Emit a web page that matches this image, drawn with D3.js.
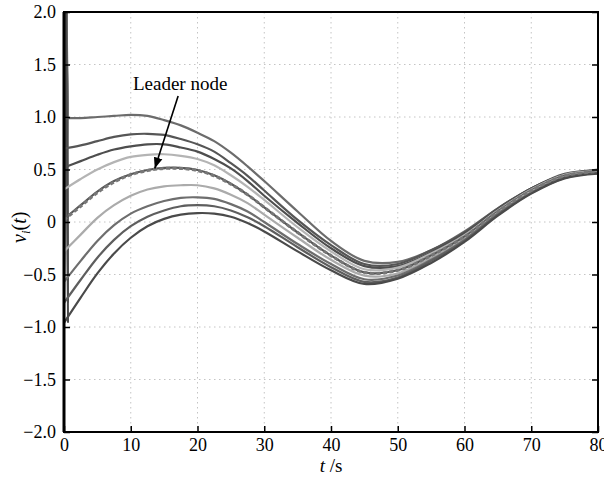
<!DOCTYPE html>
<html>
<head>
<meta charset="utf-8">
<script src="https://cdn.jsdelivr.net/npm/d3@7"></script>
<style>
  body { margin: 0; background: #fff; }
  svg { display: block; }
  svg text { font-family: "Liberation Serif", "Times New Roman", serif; }
</style>
</head>
<body>
<svg id="chart" width="604" height="477"></svg>
<script>
// time samples (s)
const times = [0, 2.5, 5, 7.5, 10, 12.5, 15, 17.5, 20, 22.5, 25, 27.5, 30, 35, 40, 45, 50, 55, 60, 65, 70, 75, 80];

// leader node velocity
const leader = [0.02, 0.15, 0.28, 0.38, 0.45, 0.49, 0.51, 0.51, 0.49, 0.44, 0.36, 0.26, 0.14, -0.10, -0.32, -0.48, -0.46, -0.32, -0.14, 0.10, 0.30, 0.44, 0.48];

// follower velocities, top to bottom at t = 0
const follower1 = [0.99, 0.99, 1.00, 1.01, 1.02, 1.01, 0.97, 0.92, 0.85, 0.77, 0.66, 0.53, 0.39, 0.10, -0.18, -0.37, -0.38, -0.27, -0.09, 0.13, 0.32, 0.45, 0.50];
const follower2 = [0.70, 0.73, 0.77, 0.81, 0.835, 0.84, 0.83, 0.79, 0.74, 0.67, 0.56, 0.44, 0.30, 0.02, -0.22, -0.40, -0.40, -0.27, -0.10, 0.13, 0.32, 0.46, 0.49];
const follower3 = [0.52, 0.58, 0.64, 0.69, 0.72, 0.74, 0.74, 0.71, 0.67, 0.60, 0.51, 0.39, 0.25, -0.01, -0.25, -0.42, -0.42, -0.29, -0.11, 0.12, 0.32, 0.45, 0.49];
const follower4 = [0.31, 0.41, 0.50, 0.57, 0.62, 0.64, 0.645, 0.63, 0.60, 0.54, 0.445, 0.335, 0.21, -0.05, -0.28, -0.45, -0.435, -0.30, -0.125, 0.11, 0.31, 0.45, 0.485];
const follower5 = [0.03, 0.16, 0.29, 0.39, 0.455, 0.495, 0.515, 0.515, 0.495, 0.445, 0.365, 0.26, 0.14, -0.10, -0.32, -0.48, -0.46, -0.32, -0.14, 0.10, 0.30, 0.44, 0.48];
const follower6 = [-0.28, -0.12, 0.04, 0.16, 0.25, 0.31, 0.34, 0.35, 0.35, 0.32, 0.26, 0.18, 0.07, -0.15, -0.36, -0.51, -0.49, -0.34, -0.16, 0.09, 0.29, 0.43, 0.475];
const follower7 = [-0.57, -0.37, -0.18, -0.03, 0.08, 0.15, 0.20, 0.23, 0.235, 0.22, 0.17, 0.10, 0.00, -0.21, -0.40, -0.545, -0.51, -0.36, -0.17, 0.08, 0.28, 0.425, 0.47];
const follower8 = [-0.77, -0.55, -0.34, -0.17, -0.04, 0.05, 0.11, 0.15, 0.16, 0.15, 0.11, 0.045, -0.04, -0.24, -0.43, -0.57, -0.53, -0.37, -0.18, 0.07, 0.275, 0.42, 0.465];
const follower9 = [-0.96, -0.72, -0.49, -0.30, -0.15, -0.04, 0.03, 0.07, 0.085, 0.08, 0.05, -0.01, -0.09, -0.28, -0.46, -0.59, -0.54, -0.39, -0.19, 0.06, 0.27, 0.415, 0.46];

// initial transient spike of the followers (goes off the top of the plot)
const spikeTimes = [0, 0.3, 0.6];
const spikePeak = 2.4;

const xTicks = [0, 10, 20, 30, 40, 50, 60, 70, 80];
const yTicks = [-2, -1.5, -1, -0.5, 0, 0.5, 1, 1.5, 2];
const annotation = "Leader node";

const followers = [follower1, follower2, follower3, follower4, follower5, follower6, follower7, follower8, follower9];
const shades = ["#6c6c6c", "#565656", "#4e4e4e", "#b4b4b4", "#585858", "#ababab", "#6e6e6e", "#5e5e5e", "#4a4a4a"];

const svg = d3.select('#chart');
const mLeft = 64, mRight = 598, mTop = 12, mBottom = 432;

const x = d3.scaleLinear().domain([0, 80]).range([mLeft, mRight]);
const y = d3.scaleLinear().domain([-2, 2]).range([mBottom, mTop]);

const defs = svg.append("defs");
defs.append("clipPath").attr("id", "plotclip")
  .append("rect")
    .attr("x", mLeft).attr("y", mTop)
    .attr("width", mRight - mLeft).attr("height", mBottom - mTop);

defs.append("marker")
    .attr("id", "arrow")
    .attr("viewBox", "0 0 10 10")
    .attr("refX", 10).attr("refY", 5)
    .attr("markerWidth", 11).attr("markerHeight", 11)
    .attr("markerUnits", "userSpaceOnUse")
    .attr("orient", "auto")
  .append("path")
    .attr("d", "M0,1 L10,5 L0,9 z")
    .attr("fill", "#000");

// grid
const grid = svg.append("g");
grid.selectAll("line.vx")
  .data(xTicks.slice(1, -1))
  .join("line")
    .attr("class", "vx")
    .attr("x1", d => x(d)).attr("x2", d => x(d))
    .attr("y1", mTop).attr("y2", mBottom)
    .attr("stroke", "#c4c4c4")
    .attr("stroke-width", 1)
    .attr("stroke-dasharray", "1.5,3.5");
grid.selectAll("line.hy")
  .data(yTicks.slice(1, -1))
  .join("line")
    .attr("class", "hy")
    .attr("x1", mLeft).attr("x2", mRight)
    .attr("y1", d => y(d)).attr("y2", d => y(d))
    .attr("stroke", "#c4c4c4")
    .attr("stroke-width", 1)
    .attr("stroke-dasharray", "1.5,3.5");

const line = d3.line()
  .x((d, i) => x(times[i]))
  .y(d => y(d))
  .curve(d3.curveCatmullRom.alpha(0.5));

const spikeLine = d3.line()
  .x(d => x(d[0]))
  .y(d => y(d[1]));

const lines = svg.append("g").attr("clip-path", "url(#plotclip)");

lines.selectAll("path.s")
  .data(followers)
  .join("path")
    .attr("class", "s")
    .attr("d", d => spikeLine([[spikeTimes[0], d[0]], [spikeTimes[1], spikePeak], [spikeTimes[2], d[0]]]))
    .attr("fill", "none")
    .attr("stroke", (d, i) => shades[i])
    .attr("stroke-width", 2);

lines.selectAll("path.f")
  .data(followers)
  .join("path")
    .attr("class", "f")
    .attr("d", d => line(d))
    .attr("fill", "none")
    .attr("stroke", (d, i) => shades[i])
    .attr("stroke-width", 2.2);

lines.append("path")
  .attr("d", line(leader))
  .attr("fill", "none")
  .attr("stroke", "#777")
  .attr("stroke-width", 3)
  .attr("stroke-dasharray", "4,2.5");

// axes with inward ticks
const styleTicks = g => {
  g.attr("font-family", null).attr("font-size", null);
  g.select(".domain").remove();
  g.selectAll(".tick line").attr("stroke", "#000").attr("stroke-width", 1.5);
  g.selectAll(".tick text").attr("fill", "#000").style("font-size", "18px")
    .style("font-family", "'Liberation Serif', 'Times New Roman', serif");
};

svg.append("g")
  .attr("transform", `translate(0,${mBottom})`)
  .call(d3.axisBottom(x).tickValues(xTicks).tickSizeInner(-6).tickSizeOuter(0).tickPadding(6).tickFormat(d3.format("d")))
  .call(styleTicks);

const yFmt = d => d === 0 ? "0" : d3.format(".1f")(d).replace("-", "\u2212");
svg.append("g")
  .attr("transform", `translate(${mLeft},0)`)
  .call(d3.axisLeft(y).tickValues(yTicks).tickSizeInner(-6).tickSizeOuter(0).tickPadding(8).tickFormat(yFmt))
  .call(styleTicks);

svg.append("g")
  .attr("transform", `translate(${mRight},0)`)
  .call(d3.axisRight(y).tickValues(yTicks).tickSizeInner(-6).tickSizeOuter(0).tickFormat(""))
  .call(styleTicks);

// frame
svg.append("rect")
  .attr("x", mLeft).attr("y", mTop)
  .attr("width", mRight - mLeft).attr("height", mBottom - mTop)
  .attr("fill", "none")
  .attr("stroke", "#000")
  .attr("stroke-width", 2);
svg.append("line")
  .attr("x1", mLeft).attr("x2", mLeft)
  .attr("y1", mTop).attr("y2", mBottom)
  .attr("stroke", "#000")
  .attr("stroke-width", 3);

// annotation
svg.append("text")
  .attr("x", x(17.4)).attr("y", y(1.26))
  .attr("text-anchor", "middle")
  .style("font-size", "19px")
  .text(annotation);
svg.append("line")
  .attr("x1", x(17.1)).attr("y1", y(1.2))
  .attr("x2", x(13.6)).attr("y2", y(0.51))
  .attr("stroke", "#000")
  .attr("stroke-width", 1.6)
  .attr("marker-end", "url(#arrow)");

// axis titles
const xl = svg.append("text")
  .attr("x", x(40)).attr("y", 472)
  .attr("text-anchor", "middle")
  .style("font-size", "19px");
xl.append("tspan").attr("font-style", "italic").text("t");
xl.append("tspan").text(" /s");

const yl = svg.append("text")
  .attr("transform", `translate(26,${y(-0.05)}) rotate(-90)`)
  .attr("text-anchor", "middle")
  .style("font-size", "20px");
yl.append("tspan").attr("font-style", "italic").text("v");
yl.append("tspan").attr("font-style", "italic").style("font-size", "13px").attr("dy", 4).text("i");
yl.append("tspan").attr("dy", -4).text("(");
yl.append("tspan").attr("font-style", "italic").text("t");
yl.append("tspan").text(")");
</script>
</body>
</html>
